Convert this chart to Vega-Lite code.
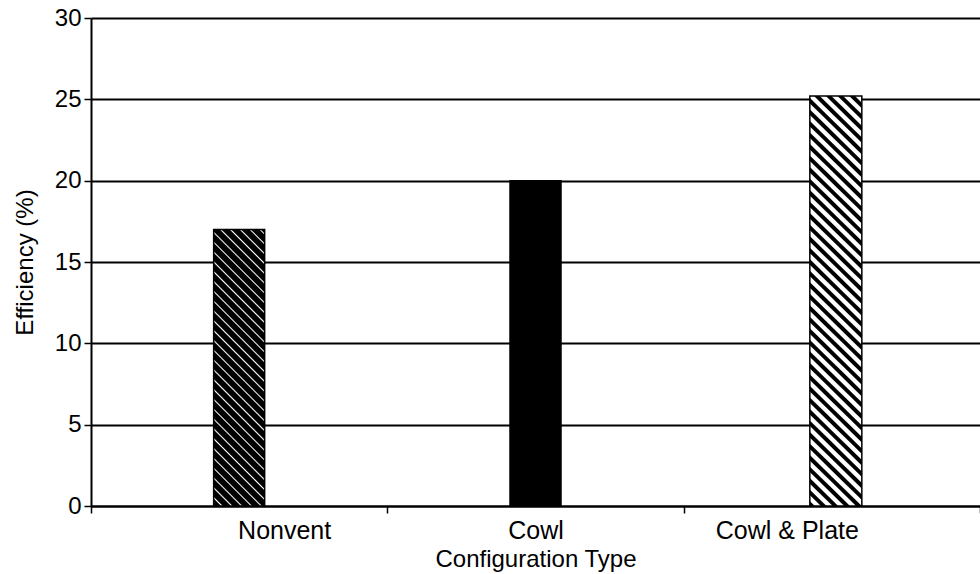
{
  "$schema": "https://vega.github.io/schema/vega-lite/v6.json",
  "width": 889,
  "height": 488,
  "autosize": {"type": "none"},
  "padding": {"left": 91, "top": 18, "right": 0, "bottom": 68},
  "background": "white",
  "config": {
    "view": {"stroke": null},
    "font": "Liberation Sans",
    "axis": {
      "domainColor": "black", "domainWidth": 2,
      "tickColor": "black", "tickWidth": 1.5, "tickSize": 7,
      "labelColor": "black", "labelFontSize": 24, "labelFont": "Liberation Sans",
      "titleColor": "black", "titleFontSize": 24, "titleFont": "Liberation Sans", "titleFontWeight": "normal"
    }
  },
  "data": {
    "values": [
      {"config": "Nonvent", "eff": 17},
      {"config": "Cowl", "eff": 20},
      {"config": "Cowl & Plate", "eff": 25.2}
    ]
  },
  "encoding": {
    "x": {
      "field": "config", "type": "nominal",
      "scale": {"domain": ["Nonvent", "Cowl", "Cowl & Plate"], "paddingInner": 0, "paddingOuter": 0},
      "axis": {
        "title": "Configuration Type", "labelAngle": 0, "tickBand": "extent",
        "labelPadding": 5, "titlePadding": 4, "grid": false,
        "labelFontSize": 25, "titleFontSize": 24,
        "labelOffset": {"condition": [{"test": "datum.value === 'Nonvent'", "value": 45}, {"test": "datum.value === 'Cowl & Plate'", "value": -45}], "value": 0}
      }
    },
    "y": {
      "field": "eff", "type": "quantitative",
      "scale": {"domain": [0, 30], "nice": false},
      "axis": {
        "title": "Efficiency (%)", "values": [0, 5, 10, 15, 20, 25, 30],
        "grid": true, "gridColor": "black", "gridWidth": 2, "gridOpacity": 1,
        "labelPadding": 3, "titlePadding": 17
      }
    }
  },
  "layer": [
    {
      "transform": [{"filter": "datum.config === 'Cowl'"}],
      "mark": {"type": "bar", "size": 51, "fill": "black", "stroke": "black", "strokeWidth": 1.5}
    },
    {
      "transform": [{"filter": "datum.config === 'Nonvent'"}],
      "mark": {
        "type": "bar", "size": 51, "stroke": "black", "strokeWidth": 1.5,
        "fill": {
          "gradient": "linear", "x1": 0, "y1": 1, "x2": 0.2112, "y2": -0.1455,
          "stops": [
            {"offset": 0, "color": "#000"}, {"offset": 0.021, "color": "#000"}, {"offset": 0.0255, "color": "#fff"},
            {"offset": 0.03, "color": "#000"}, {"offset": 0.051, "color": "#000"}, {"offset": 0.0555, "color": "#fff"},
            {"offset": 0.06, "color": "#000"}, {"offset": 0.081, "color": "#000"}, {"offset": 0.0855, "color": "#fff"},
            {"offset": 0.09, "color": "#000"}, {"offset": 0.111, "color": "#000"}, {"offset": 0.1155, "color": "#fff"},
            {"offset": 0.12, "color": "#000"}, {"offset": 0.141, "color": "#000"}, {"offset": 0.1455, "color": "#fff"},
            {"offset": 0.15, "color": "#000"}, {"offset": 0.171, "color": "#000"}, {"offset": 0.1755, "color": "#fff"},
            {"offset": 0.18, "color": "#000"}, {"offset": 0.201, "color": "#000"}, {"offset": 0.2055, "color": "#fff"},
            {"offset": 0.21, "color": "#000"}, {"offset": 0.231, "color": "#000"}, {"offset": 0.2355, "color": "#fff"},
            {"offset": 0.24, "color": "#000"}, {"offset": 0.261, "color": "#000"}, {"offset": 0.2655, "color": "#fff"},
            {"offset": 0.27, "color": "#000"}, {"offset": 0.291, "color": "#000"}, {"offset": 0.2955, "color": "#fff"},
            {"offset": 0.3, "color": "#000"}, {"offset": 0.321, "color": "#000"}, {"offset": 0.3255, "color": "#fff"},
            {"offset": 0.33, "color": "#000"}, {"offset": 0.351, "color": "#000"}, {"offset": 0.3555, "color": "#fff"},
            {"offset": 0.36, "color": "#000"}, {"offset": 0.381, "color": "#000"}, {"offset": 0.3855, "color": "#fff"},
            {"offset": 0.39, "color": "#000"}, {"offset": 0.411, "color": "#000"}, {"offset": 0.4155, "color": "#fff"},
            {"offset": 0.42, "color": "#000"}, {"offset": 0.441, "color": "#000"}, {"offset": 0.4455, "color": "#fff"},
            {"offset": 0.45, "color": "#000"}, {"offset": 0.471, "color": "#000"}, {"offset": 0.4755, "color": "#fff"},
            {"offset": 0.48, "color": "#000"}, {"offset": 0.501, "color": "#000"}, {"offset": 0.5055, "color": "#fff"},
            {"offset": 0.51, "color": "#000"}, {"offset": 0.531, "color": "#000"}, {"offset": 0.5355, "color": "#fff"},
            {"offset": 0.54, "color": "#000"}, {"offset": 0.561, "color": "#000"}, {"offset": 0.5655, "color": "#fff"},
            {"offset": 0.57, "color": "#000"}, {"offset": 0.591, "color": "#000"}, {"offset": 0.5955, "color": "#fff"},
            {"offset": 0.6, "color": "#000"}, {"offset": 0.621, "color": "#000"}, {"offset": 0.6255, "color": "#fff"},
            {"offset": 0.63, "color": "#000"}, {"offset": 0.651, "color": "#000"}, {"offset": 0.6555, "color": "#fff"},
            {"offset": 0.66, "color": "#000"}, {"offset": 0.681, "color": "#000"}, {"offset": 0.6855, "color": "#fff"},
            {"offset": 0.69, "color": "#000"}, {"offset": 0.711, "color": "#000"}, {"offset": 0.7155, "color": "#fff"},
            {"offset": 0.72, "color": "#000"}, {"offset": 0.741, "color": "#000"}, {"offset": 0.7455, "color": "#fff"},
            {"offset": 0.75, "color": "#000"}, {"offset": 0.771, "color": "#000"}, {"offset": 0.7755, "color": "#fff"},
            {"offset": 0.78, "color": "#000"}, {"offset": 0.801, "color": "#000"}, {"offset": 0.8055, "color": "#fff"},
            {"offset": 0.81, "color": "#000"}, {"offset": 0.831, "color": "#000"}, {"offset": 0.8355, "color": "#fff"},
            {"offset": 0.84, "color": "#000"}, {"offset": 0.861, "color": "#000"}, {"offset": 0.8655, "color": "#fff"},
            {"offset": 0.87, "color": "#000"}, {"offset": 0.891, "color": "#000"}, {"offset": 0.8955, "color": "#fff"},
            {"offset": 0.9, "color": "#000"}, {"offset": 0.921, "color": "#000"}, {"offset": 0.9255, "color": "#fff"},
            {"offset": 0.93, "color": "#000"}, {"offset": 0.951, "color": "#000"}, {"offset": 0.9555, "color": "#fff"},
            {"offset": 0.96, "color": "#000"}, {"offset": 0.981, "color": "#000"}, {"offset": 0.9855, "color": "#fff"},
            {"offset": 0.99, "color": "#000"}, {"offset": 1, "color": "#000"}
          ]
        }
      }
    },
    {
      "transform": [{"filter": "datum.config === 'Cowl & Plate'"}],
      "mark": {
        "type": "bar", "size": 52, "stroke": "black", "strokeWidth": 1.5, "xOffset": 4,
        "fill": {
          "gradient": "linear", "x1": 0, "y1": 1, "x2": 0.1377, "y2": -0.1072,
          "stops": [
            {"offset": 0, "color": "#000"}, {"offset": 0.009, "color": "#000"}, {"offset": 0.012, "color": "#fff"}, {"offset": 0.022, "color": "#fff"},
            {"offset": 0.025, "color": "#000"}, {"offset": 0.034, "color": "#000"}, {"offset": 0.037, "color": "#fff"}, {"offset": 0.047, "color": "#fff"},
            {"offset": 0.05, "color": "#000"}, {"offset": 0.059, "color": "#000"}, {"offset": 0.062, "color": "#fff"}, {"offset": 0.072, "color": "#fff"},
            {"offset": 0.075, "color": "#000"}, {"offset": 0.084, "color": "#000"}, {"offset": 0.087, "color": "#fff"}, {"offset": 0.097, "color": "#fff"},
            {"offset": 0.1, "color": "#000"}, {"offset": 0.109, "color": "#000"}, {"offset": 0.112, "color": "#fff"}, {"offset": 0.122, "color": "#fff"},
            {"offset": 0.125, "color": "#000"}, {"offset": 0.134, "color": "#000"}, {"offset": 0.137, "color": "#fff"}, {"offset": 0.147, "color": "#fff"},
            {"offset": 0.15, "color": "#000"}, {"offset": 0.159, "color": "#000"}, {"offset": 0.162, "color": "#fff"}, {"offset": 0.172, "color": "#fff"},
            {"offset": 0.175, "color": "#000"}, {"offset": 0.184, "color": "#000"}, {"offset": 0.187, "color": "#fff"}, {"offset": 0.197, "color": "#fff"},
            {"offset": 0.2, "color": "#000"}, {"offset": 0.209, "color": "#000"}, {"offset": 0.212, "color": "#fff"}, {"offset": 0.222, "color": "#fff"},
            {"offset": 0.225, "color": "#000"}, {"offset": 0.234, "color": "#000"}, {"offset": 0.237, "color": "#fff"}, {"offset": 0.247, "color": "#fff"},
            {"offset": 0.25, "color": "#000"}, {"offset": 0.259, "color": "#000"}, {"offset": 0.262, "color": "#fff"}, {"offset": 0.272, "color": "#fff"},
            {"offset": 0.275, "color": "#000"}, {"offset": 0.284, "color": "#000"}, {"offset": 0.287, "color": "#fff"}, {"offset": 0.297, "color": "#fff"},
            {"offset": 0.3, "color": "#000"}, {"offset": 0.309, "color": "#000"}, {"offset": 0.312, "color": "#fff"}, {"offset": 0.322, "color": "#fff"},
            {"offset": 0.325, "color": "#000"}, {"offset": 0.334, "color": "#000"}, {"offset": 0.337, "color": "#fff"}, {"offset": 0.347, "color": "#fff"},
            {"offset": 0.35, "color": "#000"}, {"offset": 0.359, "color": "#000"}, {"offset": 0.362, "color": "#fff"}, {"offset": 0.372, "color": "#fff"},
            {"offset": 0.375, "color": "#000"}, {"offset": 0.384, "color": "#000"}, {"offset": 0.387, "color": "#fff"}, {"offset": 0.397, "color": "#fff"},
            {"offset": 0.4, "color": "#000"}, {"offset": 0.409, "color": "#000"}, {"offset": 0.412, "color": "#fff"}, {"offset": 0.422, "color": "#fff"},
            {"offset": 0.425, "color": "#000"}, {"offset": 0.434, "color": "#000"}, {"offset": 0.437, "color": "#fff"}, {"offset": 0.447, "color": "#fff"},
            {"offset": 0.45, "color": "#000"}, {"offset": 0.459, "color": "#000"}, {"offset": 0.462, "color": "#fff"}, {"offset": 0.472, "color": "#fff"},
            {"offset": 0.475, "color": "#000"}, {"offset": 0.484, "color": "#000"}, {"offset": 0.487, "color": "#fff"}, {"offset": 0.497, "color": "#fff"},
            {"offset": 0.5, "color": "#000"}, {"offset": 0.509, "color": "#000"}, {"offset": 0.512, "color": "#fff"}, {"offset": 0.522, "color": "#fff"},
            {"offset": 0.525, "color": "#000"}, {"offset": 0.534, "color": "#000"}, {"offset": 0.537, "color": "#fff"}, {"offset": 0.547, "color": "#fff"},
            {"offset": 0.55, "color": "#000"}, {"offset": 0.559, "color": "#000"}, {"offset": 0.562, "color": "#fff"}, {"offset": 0.572, "color": "#fff"},
            {"offset": 0.575, "color": "#000"}, {"offset": 0.584, "color": "#000"}, {"offset": 0.587, "color": "#fff"}, {"offset": 0.597, "color": "#fff"},
            {"offset": 0.6, "color": "#000"}, {"offset": 0.609, "color": "#000"}, {"offset": 0.612, "color": "#fff"}, {"offset": 0.622, "color": "#fff"},
            {"offset": 0.625, "color": "#000"}, {"offset": 0.634, "color": "#000"}, {"offset": 0.637, "color": "#fff"}, {"offset": 0.647, "color": "#fff"},
            {"offset": 0.65, "color": "#000"}, {"offset": 0.659, "color": "#000"}, {"offset": 0.662, "color": "#fff"}, {"offset": 0.672, "color": "#fff"},
            {"offset": 0.675, "color": "#000"}, {"offset": 0.684, "color": "#000"}, {"offset": 0.687, "color": "#fff"}, {"offset": 0.697, "color": "#fff"},
            {"offset": 0.7, "color": "#000"}, {"offset": 0.709, "color": "#000"}, {"offset": 0.712, "color": "#fff"}, {"offset": 0.722, "color": "#fff"},
            {"offset": 0.725, "color": "#000"}, {"offset": 0.734, "color": "#000"}, {"offset": 0.737, "color": "#fff"}, {"offset": 0.747, "color": "#fff"},
            {"offset": 0.75, "color": "#000"}, {"offset": 0.759, "color": "#000"}, {"offset": 0.762, "color": "#fff"}, {"offset": 0.772, "color": "#fff"},
            {"offset": 0.775, "color": "#000"}, {"offset": 0.784, "color": "#000"}, {"offset": 0.787, "color": "#fff"}, {"offset": 0.797, "color": "#fff"},
            {"offset": 0.8, "color": "#000"}, {"offset": 0.809, "color": "#000"}, {"offset": 0.812, "color": "#fff"}, {"offset": 0.822, "color": "#fff"},
            {"offset": 0.825, "color": "#000"}, {"offset": 0.834, "color": "#000"}, {"offset": 0.837, "color": "#fff"}, {"offset": 0.847, "color": "#fff"},
            {"offset": 0.85, "color": "#000"}, {"offset": 0.859, "color": "#000"}, {"offset": 0.862, "color": "#fff"}, {"offset": 0.872, "color": "#fff"},
            {"offset": 0.875, "color": "#000"}, {"offset": 0.884, "color": "#000"}, {"offset": 0.887, "color": "#fff"}, {"offset": 0.897, "color": "#fff"},
            {"offset": 0.9, "color": "#000"}, {"offset": 0.909, "color": "#000"}, {"offset": 0.912, "color": "#fff"}, {"offset": 0.922, "color": "#fff"},
            {"offset": 0.925, "color": "#000"}, {"offset": 0.934, "color": "#000"}, {"offset": 0.937, "color": "#fff"}, {"offset": 0.947, "color": "#fff"},
            {"offset": 0.95, "color": "#000"}, {"offset": 0.959, "color": "#000"}, {"offset": 0.962, "color": "#fff"}, {"offset": 0.972, "color": "#fff"},
            {"offset": 0.975, "color": "#000"}, {"offset": 0.984, "color": "#000"}, {"offset": 0.987, "color": "#fff"}, {"offset": 0.997, "color": "#fff"},
            {"offset": 1, "color": "#000"}
          ]
        }
      }
    }
  ]
}
